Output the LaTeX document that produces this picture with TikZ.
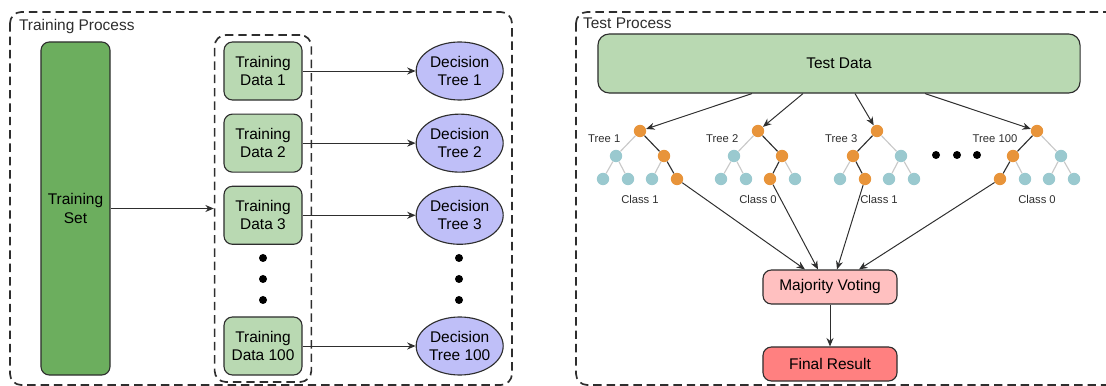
\documentclass[tikz,border=0pt]{standalone}
\usepackage{fontspec}
\setmainfont{Liberation Sans}
\usepackage{tikz}
\usetikzlibrary{arrows.meta,positioning,shapes.geometric,fit,calc}
\definecolor{setgreen}{HTML}{6CAE5E}
\definecolor{datagreen}{HTML}{B9D9B2}
\definecolor{lavender}{HTML}{BFBFF8}
\definecolor{votepink}{HTML}{FFC0C0}
\definecolor{resultred}{HTML}{FF8080}
\definecolor{hotorange}{HTML}{E8943A}
\definecolor{coldteal}{HTML}{9AC9CF}
\definecolor{bk90}{HTML}{2E2E2E}
\definecolor{bk20}{HTML}{C8C8C8}
\tikzset{
  groupbox/.style={draw=bk90, line width=1.2pt, rounded corners=8pt,
    dash pattern=on 6pt off 3.5pt},
  grouplabel/.style={font=\fontsize{11}{13}\selectfont, text=bk90, inner sep=2pt},
  setbox/.style={rectangle, draw=bk90, fill=setgreen, line width=0.8pt,
    rounded corners=6pt, minimum width=1.725cm, minimum height=8.325cm,
    font=\fontsize{11}{13}\selectfont, align=center},
  databox/.style={rectangle, draw=bk90, fill=datagreen, line width=0.8pt,
    rounded corners=6pt, minimum width=1.95cm, minimum height=1.45cm,
    font=\fontsize{11}{13}\selectfont, align=center, inner sep=1pt},
  poolbox/.style={rectangle, draw=bk90, line width=1.2pt, rounded corners=8pt,
    dash pattern=on 6pt off 3.5pt, inner xsep=0.22cm, inner ysep=0.16cm},
  treebox/.style={ellipse, draw=bk90, fill=lavender, line width=0.8pt,
    minimum width=2.175cm, minimum height=1.45cm, inner sep=0pt,
    font=\fontsize{11}{13}\selectfont, align=center},
  votebox/.style={rectangle, draw=bk90, fill=#1, line width=0.8pt,
    rounded corners=6pt, minimum width=3.35cm, minimum height=0.85cm,
    font=\fontsize{11}{13}\selectfont},
  votebox/.default=votepink,
  testbox/.style={rectangle, draw=bk90, fill=datagreen, line width=0.8pt,
    rounded corners=8pt, minimum width=12.05cm, minimum height=1.475cm,
    font=\fontsize{11}{13}\selectfont},
  bigdot/.style={circle, fill=black, minimum size=0.2cm, inner sep=0pt},
  hotleaf/.style={circle, fill=hotorange, minimum size=0.31cm, inner sep=0pt},
  coldleaf/.style={circle, fill=coldteal, minimum size=0.31cm, inner sep=0pt},
  hotedge/.style={draw=bk90, line width=0.8pt},
  coldedge/.style={draw=bk20, line width=0.8pt},
  smalllabel/.style={font=\fontsize{8}{10}\selectfont, text=bk90, inner sep=1pt},
  flow/.style={-{Stealth[length=6pt,width=5pt]}, line width=0.7pt, draw=bk90},
}
% name, root x, left, right, ll, lr, rl, rr, tree label
\newcommand{\minitree}[9]{%
  \node[hotleaf] (#1r) at (#2,131) {};
  \node[#3leaf] (#1a) at (#2-24,156) {};
  \node[#4leaf] (#1b) at (#2+24,156) {};
  \node[#5leaf] (#1aa) at (#2-37,179) {};
  \node[#6leaf] (#1ab) at (#2-12,179) {};
  \node[#7leaf] (#1ba) at (#2+12,179) {};
  \node[#8leaf] (#1bb) at (#2+37,179) {};
  \draw[#3edge] (#1r) -- (#1a);
  \draw[#4edge] (#1r) -- (#1b);
  \draw[#5edge] (#1a) -- (#1aa);
  \draw[#6edge] (#1a) -- (#1ab);
  \draw[#7edge] (#1b) -- (#1ba);
  \draw[#8edge] (#1b) -- (#1bb);
  \node[smalllabel, anchor=east] (#1l) at (#2-18,139) {#9};
}

\begin{document}
\begin{tikzpicture}[x=0.025cm, y=-0.025cm]
  \clip (0,0) rectangle (1106,386);

  % Training side
  \draw[groupbox] (10,12) rectangle (512,385);
  \node[grouplabel, anchor=west] (trainlabel) at (16,27) {Training Process};
  \node[setbox] (trainset) at (75.5,208.5) {Training\\Set};
  \node[databox] (data1) at (263,71) {Training\\Data 1};
  \node[databox, below=0.325cm of data1] (data2) {Training\\Data 2};
  \node[databox, below=0.325cm of data2] (data3) {Training\\Data 3};
  \node[databox] (data100) at (263,346) {Training\\Data 100};
  \node[poolbox, fit=(data1)(data100)] (pool) {};
  \node[bigdot] (dotl1) at (263,258) {};
  \node[bigdot] (dotl2) at (263,279) {};
  \node[bigdot] (dotl3) at (263,300) {};
  \node[treebox, right=2.825cm of data1] (tree1) {Decision\\Tree 1};
  \node[treebox, right=2.825cm of data2] (tree2) {Decision\\Tree 2};
  \node[treebox, right=2.825cm of data3] (tree3) {Decision\\Tree 3};
  \node[treebox, right=2.825cm of data100] (tree100) {Decision\\Tree 100};
  \node[bigdot] (dotr1) at (459,258) {};
  \node[bigdot] (dotr2) at (459,279) {};
  \node[bigdot] (dotr3) at (459,300) {};
  \draw[flow] (trainset.east) -- (trainset.east -| pool.west);
  \draw[flow] (data1) -- (tree1);
  \draw[flow] (data2) -- (tree2);
  \draw[flow] (data3) -- (tree3);
  \draw[flow] (data100) -- (tree100);

  % Test side
  \draw[groupbox] (576,12) rectangle (1125,385);
  \node[grouplabel, anchor=west] (testlabel) at (580,23) {Test Process};
  \node[testbox] (testdata) at (839,63.5) {Test Data};
  \minitree{ta}{640}{cold}{hot}{cold}{cold}{cold}{hot}{Tree 1}
  \minitree{tb}{758}{cold}{hot}{cold}{cold}{hot}{cold}{Tree 2}
  \minitree{tc}{877}{hot}{cold}{cold}{hot}{cold}{cold}{Tree 3}
  \minitree{td}{1037}{hot}{cold}{hot}{cold}{cold}{cold}{Tree 100}
  \node[smalllabel] (classa) at (640,199) {Class 1};
  \node[smalllabel] (classb) at (758,199) {Class 0};
  \node[smalllabel] (classc) at (879,199) {Class 1};
  \node[smalllabel] (classd) at (1037,199) {Class 0};
  \node[bigdot] (dott1) at (936,155) {};
  \node[bigdot] (dott2) at (957,155) {};
  \node[bigdot] (dott3) at (977,155) {};
  \node[votebox] (vote) at (830,287) {Majority Voting};
  \node[votebox=resultred] (final) at (830,364) {Final Result};
  \draw[flow] ($(testdata.south)+(-87,0)$) -- (tar);
  \draw[flow] ($(testdata.south)+(-36,0)$) -- (tbr);
  \draw[flow] ($(testdata.south)+(16,0)$) -- (tcr);
  \draw[flow] ($(testdata.south)+(86,0)$) -- (tdr);
  \draw[flow] (tabb) -- ($(vote.north)+(-25,0)$);
  \draw[flow] (tbba) -- ($(vote.north)+(-12,0)$);
  \draw[flow] (tcab) -- ($(vote.north)+(7,0)$);
  \draw[flow] (tdaa) -- ($(vote.north)+(29,0)$);
  \draw[flow] (vote) -- (final);
\end{tikzpicture}
\end{document}
